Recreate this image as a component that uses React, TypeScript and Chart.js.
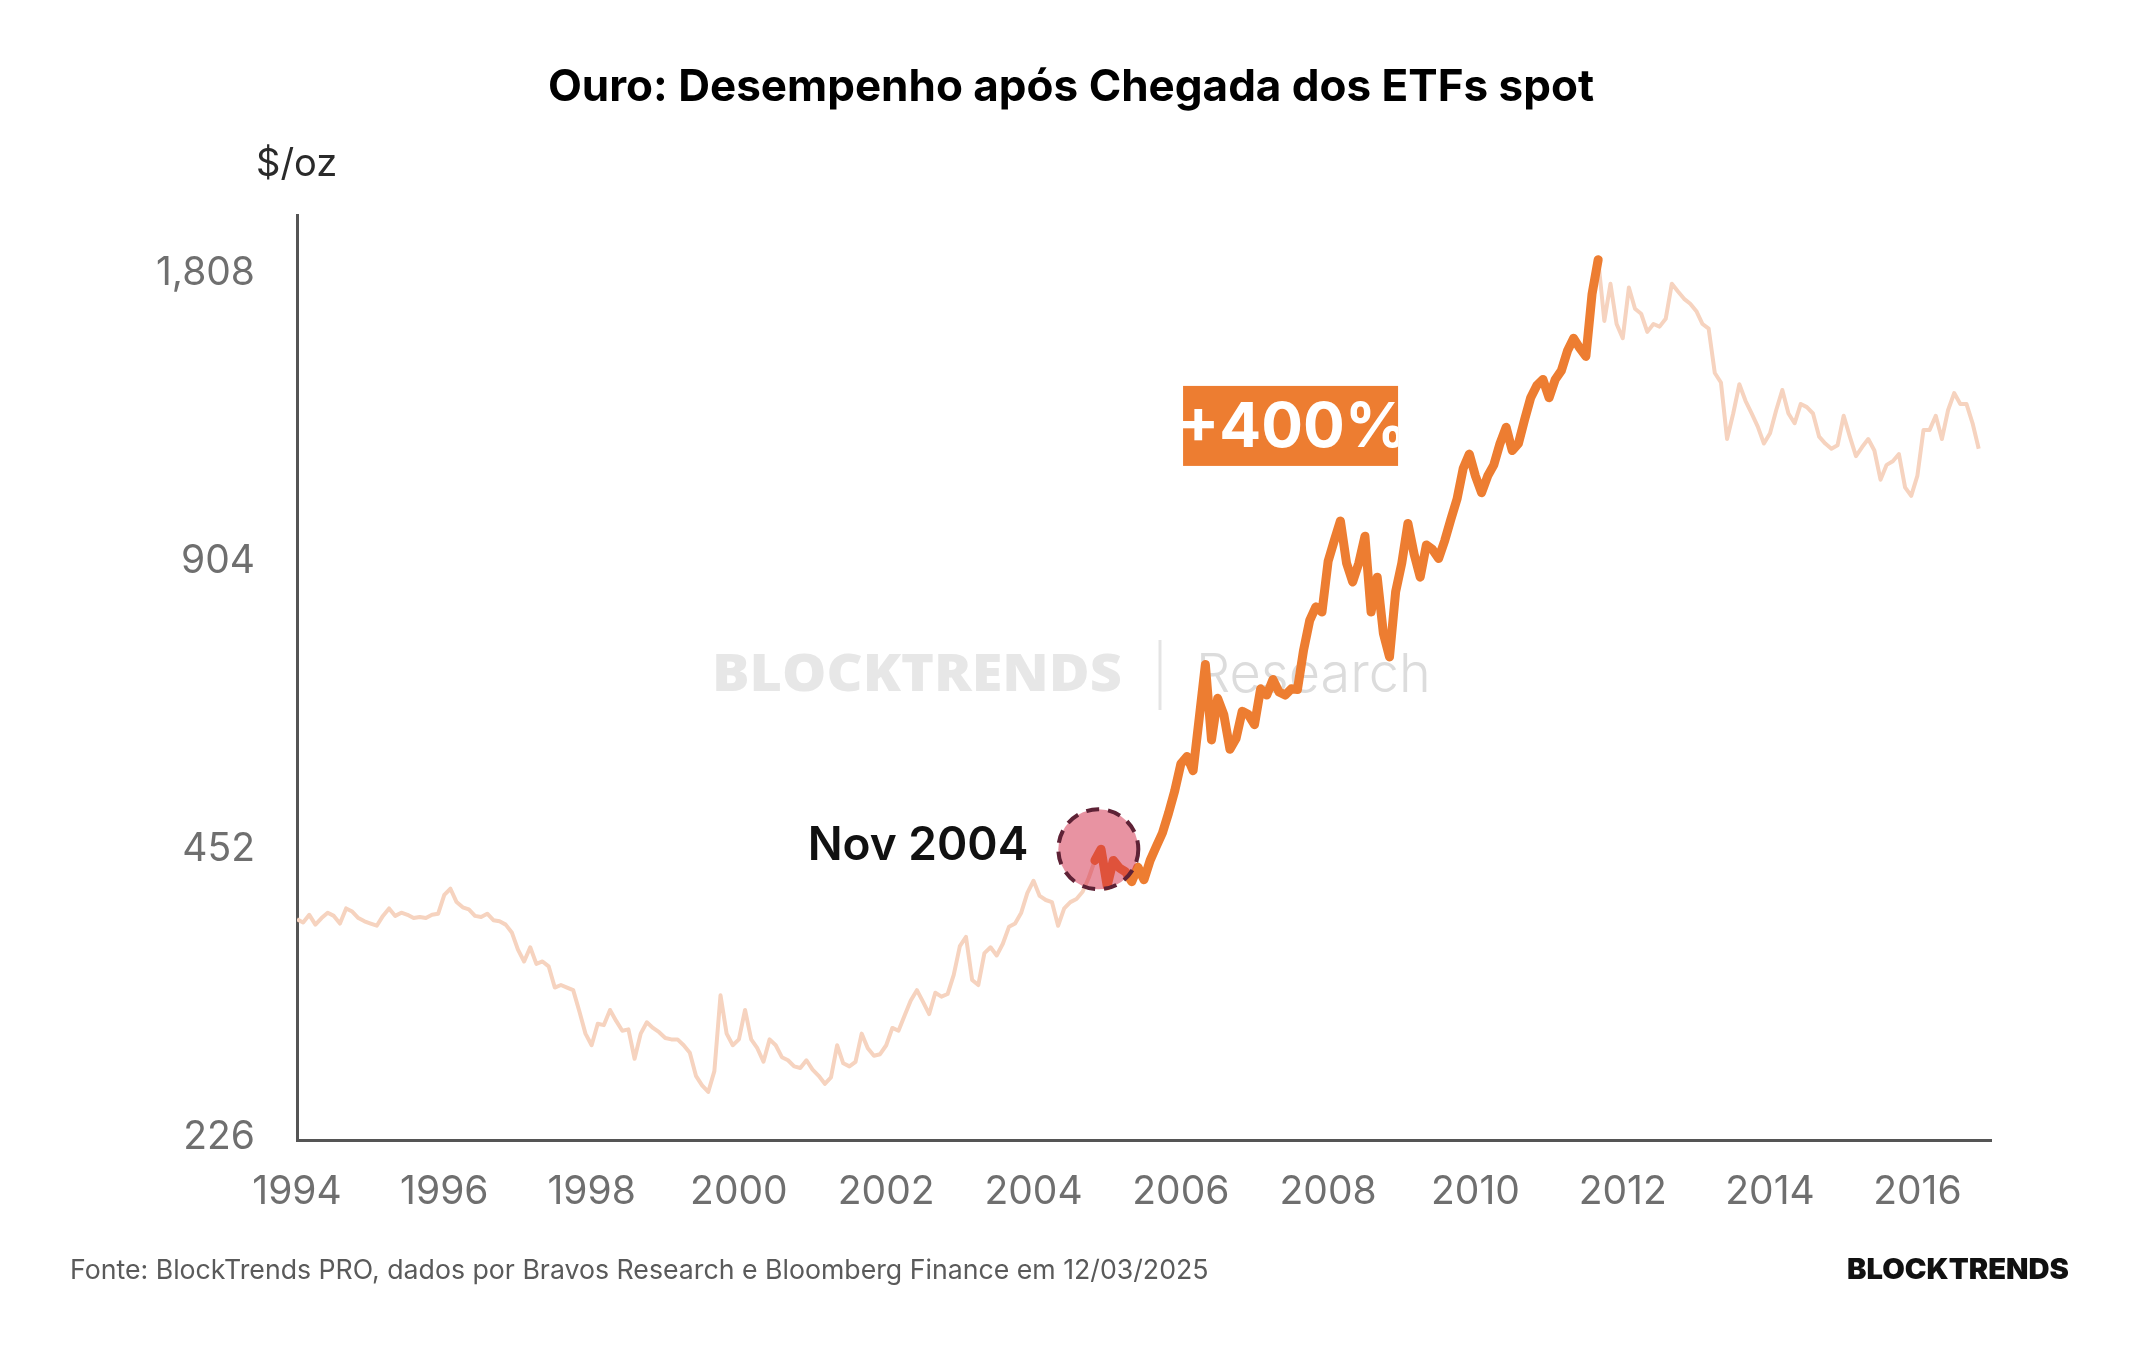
import React, { useEffect, useRef } from 'react';
import { Chart, registerables } from 'chart.js';

Chart.register(...registerables);

// Monthly gold price ($/oz), Jan 1994 .. Nov 2016
const startYear = 1994;
const goldPrices: number[] = [
  // 1994
  382, 379, 386, 377, 383, 388, 385, 378, 392, 389, 383, 380,
  // 1995
  378, 376, 385, 392, 385, 388, 386, 383, 384, 383, 386, 387,
  // 1996
  405, 411, 398, 393, 391, 385, 384, 387, 381, 380, 377, 370,
  // 1997
  355, 345, 357, 343, 345, 341, 324, 326, 324, 322, 306, 290,
  // 1998
  282, 297, 296, 307, 299, 292, 293, 273, 290, 298, 294, 291,
  // 1999
  287, 286, 286, 282, 277, 262, 256, 252, 265, 318, 290, 282,
  // 2000
  286, 307, 286, 280, 271, 286, 282, 274, 272, 268, 267, 272,
  // 2001
  266, 262, 257, 261, 282, 270, 268, 271, 290, 280, 275, 276,
  // 2002
  282, 294, 292, 303, 314, 322, 313, 304, 320, 317, 319, 334,
  // 2003
  358, 366, 330, 326, 352, 357, 350, 360, 375, 378, 388, 407,
  // 2004
  419, 404, 400, 398, 376, 392, 398, 401, 408, 422, 440, 452,
  // 2005
  414, 440, 432, 428, 418, 433, 420, 440, 455, 470, 493, 520,
  // 2006
  555, 565, 546, 620, 705, 588, 650, 625, 575, 590, 630, 625,
  // 2007
  610, 665, 655, 680, 660, 655, 665, 664, 730, 784, 810, 800,
  // 2008
  904, 950, 996, 900, 860, 900, 960, 800, 870, 760, 718, 840,
  // 2009
  900, 990, 920, 870, 940, 930, 910, 950, 1000, 1050, 1130, 1170,
  // 2010
  1110, 1066, 1110, 1140, 1200, 1248, 1180, 1200, 1270, 1340, 1380, 1400,
  // 2011
  1340, 1400, 1430, 1500, 1546, 1510, 1480, 1720, 1868, 1612, 1763, 1600,
  // 2012
  1546, 1747, 1660, 1640, 1570, 1600, 1590, 1620, 1763, 1730, 1700, 1680,
  // 2013
  1650, 1600, 1582, 1422, 1390, 1213, 1290, 1384, 1330, 1290, 1250, 1200,
  // 2014
  1230, 1300, 1365, 1290, 1260, 1320, 1310, 1290, 1220, 1200, 1185, 1195,
  // 2015
  1283, 1220, 1164, 1190, 1213, 1180, 1100, 1140, 1150, 1170, 1080, 1058,
  // 2016
  1110, 1240, 1240, 1283, 1213, 1300, 1355, 1320, 1320, 1260, 1185,
];

const highlightStartIndex = 130; // Nov 2004 (spot ETF launch)
const highlightEndIndex = 212; // Sep 2011 (peak)

const xTicks = [1994, 1996, 1998, 2000, 2002, 2004, 2006, 2008, 2010, 2012, 2014, 2016];
const yTicks = [226, 452, 904, 1808];

const titleText = 'Ouro: Desempenho após Chegada dos ETFs spot';
const unitText = '$/oz';
const sourceText = 'Fonte: BlockTrends PRO, dados por Bravos Research e Bloomberg Finance em 12/03/2025';
const logoText = 'BLOCKTRENDS';
const gainLabel = '+400%';
const launchLabel = 'Nov 2004';
const launchMarker = { year: 2004.88, price: 452 };
const gainBoxAnchor = { year: 2007.49, price: 1252 };

const W = 2144;
const H = 1350;

function fitText(
  ctx: CanvasRenderingContext2D,
  text: string,
  x: number,
  y: number,
  width: number,
  align: 'left' | 'right'
) {
  const m = ctx.measureText(text).width;
  const sx = width / m;
  ctx.save();
  ctx.textAlign = 'left';
  const left = align === 'left' ? x : x - width;
  ctx.translate(left, y);
  ctx.scale(sx, 1);
  ctx.fillText(text, 0, 0);
  ctx.restore();
}

const overlayPlugin = {
  id: 'overlay',
  beforeDatasetsDraw(chart: any) {
    const ctx = chart.ctx as CanvasRenderingContext2D;
    ctx.save();
    // watermark
    ctx.textBaseline = 'middle';
    ctx.fillStyle = '#e7e7e7';
    ctx.font = '800 52px "Open Sans"';
    fitText(ctx, 'BLOCKTRENDS', 712, 676, 410, 'left');
    ctx.strokeStyle = '#e4e4e4';
    ctx.lineWidth = 3;
    ctx.beginPath();
    ctx.moveTo(1160, 640);
    ctx.lineTo(1160, 710);
    ctx.stroke();
    ctx.fillStyle = '#dcdcdc';
    ctx.font = '300 54px Inter';
    ctx.textAlign = 'left';
    ctx.fillText('Research', 1196, 676);
    ctx.restore();
  },
  afterDatasetsDraw(chart: any) {
    const ctx = chart.ctx as CanvasRenderingContext2D;
    const xs = chart.scales.x;
    const ys = chart.scales.y;
    ctx.save();
    // launch marker circle
    const cx = xs.getPixelForValue(launchMarker.year);
    const cy = ys.getPixelForValue(launchMarker.price);
    ctx.beginPath();
    ctx.arc(cx, cy, 40, 0, Math.PI * 2);
    ctx.fillStyle = 'rgba(210, 40, 70, 0.5)';
    ctx.fill();
    ctx.setLineDash([13, 9]);
    ctx.lineWidth = 4;
    ctx.strokeStyle = '#5e2236';
    ctx.stroke();
    ctx.setLineDash([]);

    // launch label
    ctx.fillStyle = '#111111';
    ctx.font = '600 46px Inter';
    ctx.textAlign = 'right';
    ctx.textBaseline = 'middle';
    ctx.fillText(launchLabel, cx - 70, cy - 3);

    // gain box
    const bx = xs.getPixelForValue(gainBoxAnchor.year);
    const by = ys.getPixelForValue(gainBoxAnchor.price);
    const bw = 215;
    const bh = 80;
    ctx.fillStyle = '#ED7D31';
    ctx.fillRect(bx - bw / 2, by - bh / 2, bw, bh);
    ctx.save();
    ctx.beginPath();
    ctx.rect(bx - bw / 2, by - bh / 2, bw, bh);
    ctx.clip();
    ctx.fillStyle = '#ffffff';
    ctx.font = '700 62px Inter';
    ctx.textAlign = 'center';
    ctx.textBaseline = 'middle';
    ctx.fillText(gainLabel, bx + 2, by + 2);
    ctx.restore();
    ctx.restore();
  },
  afterDraw(chart: any) {
    const ctx = chart.ctx as CanvasRenderingContext2D;
    ctx.save();
    ctx.textBaseline = 'middle';
    // title
    ctx.fillStyle = '#000000';
    ctx.font = '700 44px Inter';
    ctx.textAlign = 'center';
    ctx.fillText(titleText, 1071, 88);
    // unit
    ctx.fillStyle = '#2a2a2a';
    ctx.font = '400 38px Inter';
    ctx.textAlign = 'left';
    ctx.fillText(unitText, 256, 165);
    // source
    ctx.fillStyle = '#5a5a5a';
    ctx.font = '400 26.7px Inter';
    ctx.fillText(sourceText, 70, 1271);
    // logo
    ctx.fillStyle = '#111111';
    ctx.font = '900 28px Inter';
    fitText(ctx, logoText, 2069, 1271, 222, 'right');
    ctx.restore();
  },
};

export default function App() {
  const canvasRef = useRef<HTMLCanvasElement | null>(null);

  useEffect(() => {
    if (!canvasRef.current) return;
    const allPoints = goldPrices.map((p, i) => ({ x: startYear + i / 12, y: p }));
    const highlightPoints = goldPrices.map((p, i) => ({
      x: startYear + i / 12,
      y: i >= highlightStartIndex && i <= highlightEndIndex ? p : null,
    }));

    const chart = new Chart(canvasRef.current, {
      type: 'line',
      data: {
        datasets: [
          {
            label: 'Ouro',
            data: allPoints,
            borderColor: '#F6D3BF',
            borderWidth: 4,
            pointRadius: 0,
            tension: 0,
            borderJoinStyle: 'round',
            order: 2,
          },
          {
            label: 'Após ETFs',
            data: highlightPoints as any,
            borderColor: '#ED7D31',
            borderWidth: 9,
            pointRadius: 0,
            tension: 0,
            spanGaps: false,
            borderJoinStyle: 'round',
            borderCapStyle: 'round',
            order: 1,
          },
        ],
      },
      options: {
        animation: false,
        responsive: false,
        devicePixelRatio: 1,
        layout: { padding: { top: 215, right: 153, left: 0, bottom: 0 } },
        plugins: {
          legend: { display: false },
          tooltip: { enabled: false },
          title: { display: false },
        },
        scales: {
          x: {
            type: 'linear',
            min: 1994,
            max: 2017,
            grid: { display: false, drawTicks: false },
            border: { display: true, color: '#555555', width: 3 },
            ticks: {
              color: '#6f6f6f',
              font: { family: 'Inter', size: 39 },
              padding: 29,
              maxRotation: 0,
              autoSkip: false,
              callback: (v: any) => String(v),
            },
            afterBuildTicks: (axis: any) => {
              axis.ticks = xTicks.map((v) => ({ value: v }));
            },
            afterFit: (s: any) => {
              s.height = 210;
            },
          },
          y: {
            type: 'logarithmic',
            min: 224.5,
            max: 2080,
            grid: { display: false, drawTicks: false },
            border: { display: true, color: '#555555', width: 3 },
            ticks: {
              color: '#6f6f6f',
              font: { family: 'Inter', size: 39 },
              padding: 42,
              autoSkip: false,
              callback: (v: any) => Number(v).toLocaleString('en-US'),
            },
            afterBuildTicks: (axis: any) => {
              axis.ticks = yTicks.map((v) => ({ value: v }));
            },
            afterFit: (s: any) => {
              s.width = 297;
            },
          },
        },
      },
      plugins: [overlayPlugin],
    });
    return () => chart.destroy();
  }, []);

  return (
    <div style={{ position: 'fixed', left: 0, top: 0, width: W, height: H, background: '#ffffff' }}>
      <canvas ref={canvasRef} width={W} height={H} style={{ width: W, height: H, display: 'block' }} />
    </div>
  );
}
